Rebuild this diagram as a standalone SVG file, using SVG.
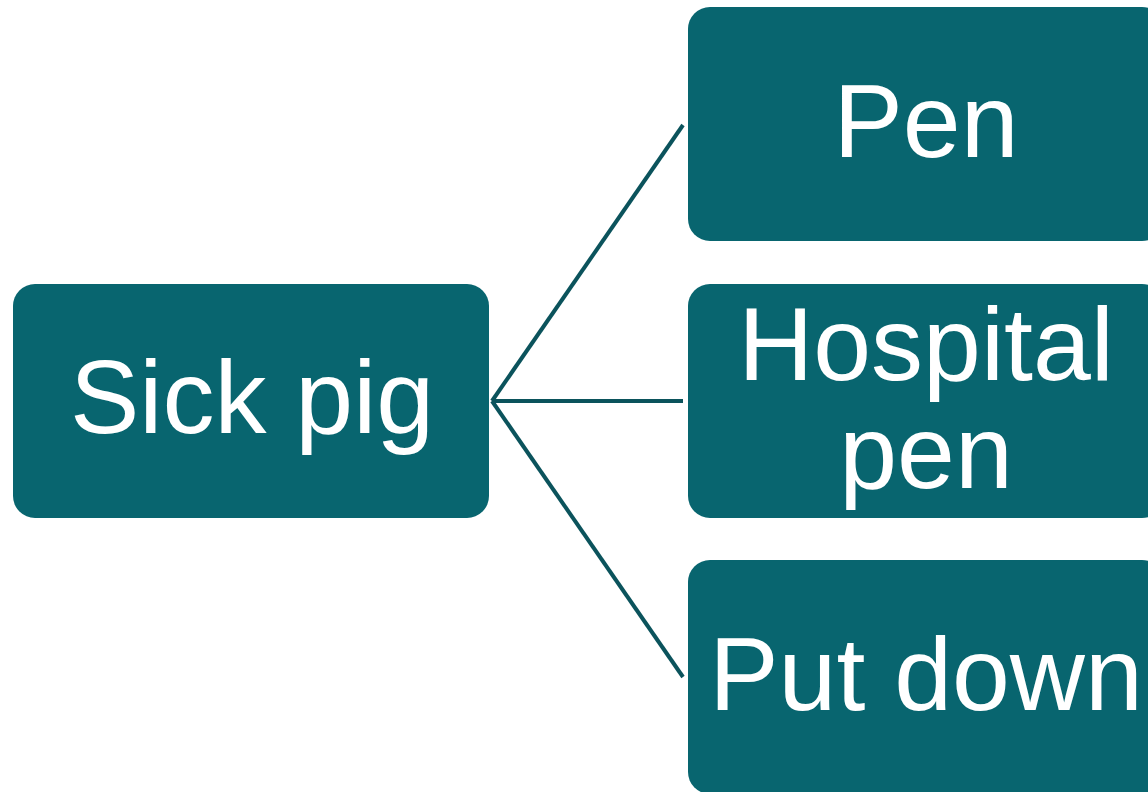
<svg xmlns="http://www.w3.org/2000/svg" width="1148" height="792" viewBox="0 0 1148 792">
<style>
.box{fill:#08656f}
.lbl{fill:#ffffff;font-family:"Liberation Sans",Arial,sans-serif;font-size:104px;text-anchor:middle}
.conn{stroke:#0b535c;stroke-width:4;fill:none}
</style>
<rect width="1148" height="792" fill="#ffffff"/>
<g id="connectors">
<line class="conn" x1="492" y1="401" x2="683" y2="125"/>
<line class="conn" x1="492" y1="401" x2="683" y2="401"/>
<line class="conn" x1="492" y1="401" x2="683" y2="677"/>
</g>
<g id="sick-pig">
<rect class="box" x="13" y="284" width="476" height="234" rx="22"/>
<text class="lbl" x="252" y="433">Sick pig</text>
</g>
<g id="pen">
<rect class="box" x="688" y="7" width="476" height="234" rx="22"/>
<text class="lbl" x="926" y="157">Pen</text>
</g>
<g id="hospital-pen">
<rect class="box" x="688" y="284" width="476" height="234" rx="22"/>
<text class="lbl" x="926" y="380">Hospital</text>
<text class="lbl" x="926" y="488">pen</text>
</g>
<g id="put-down">
<rect class="box" x="688" y="560" width="476" height="234" rx="22"/>
<text class="lbl" x="926" y="710">Put down</text>
</g>
</svg>
